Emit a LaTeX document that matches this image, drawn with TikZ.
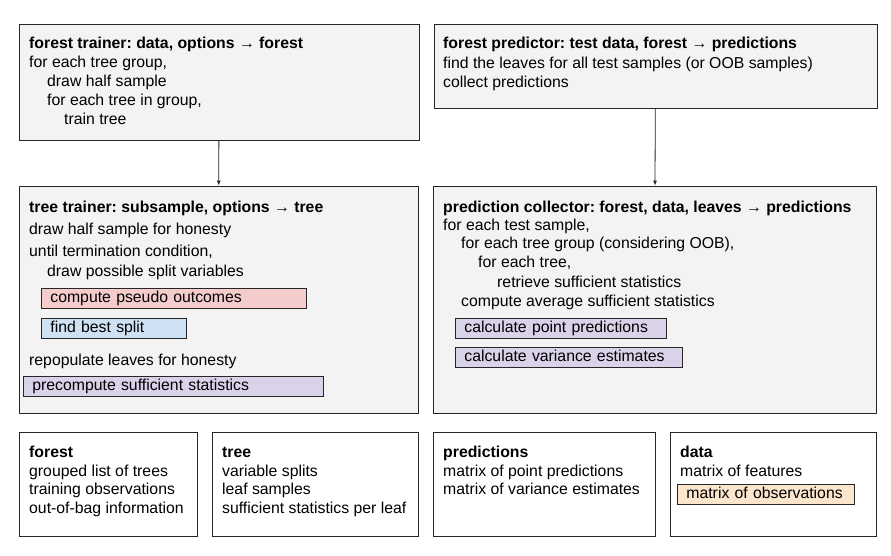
\documentclass[tikz,border=0pt]{standalone}
\usepackage{fontspec}
\setmainfont{Liberation Sans}
\frenchspacing
\usetikzlibrary{arrows.meta}
\definecolor{panelgray}{HTML}{F3F3F3}
\definecolor{pinkfill}{HTML}{F4CCCC}
\definecolor{bluefill}{HTML}{CFE2F3}
\definecolor{purplefill}{HTML}{D9D2E9}
\definecolor{orangefill}{HTML}{FCE5CD}
\tikzset{
  panel/.style = {draw=black!85, fill=#1, line width=0.8pt,
                  inner sep=0pt},
  panel/.default = panelgray,
  txt/.style = {anchor=base west, inner sep=0pt,
                font=\fontsize{15.8}{19}\selectfont},
  headline/.style = {txt, font=\fontsize{15.8}{19}\selectfont\bfseries},
  hlbox/.style = {draw=black!85, fill=#1, line width=0.8pt, anchor=west,
                  inner xsep=9pt, inner ysep=0pt, minimum height=20pt,
                  align=left, text height=11.5pt, text depth=3.5pt,
                  font=\fontsize{15.8}{19}\selectfont},
  conn/.style = {-{Latex[length=5pt,width=4pt]}, black!85, line width=0.8pt}
}

\begin{document}
\begin{tikzpicture}[x=1pt, y=-1pt]
	\useasboundingbox (0,0) rectangle (891,556);
	
	% Panels
	\node[panel, minimum width=400pt, minimum height=116pt] (ft) at (219,82) {};
	\node[panel, minimum width=443pt, minimum height=84pt] (fp) at (655.5,66) {};
	\node[panel, minimum width=399pt, minimum height=227pt] (tt) at (218.5,299.5) {};
	\node[panel, minimum width=443pt, minimum height=227pt] (pc) at (654.5,299.5) {};
	
	% Data structures
	\node[panel=white, minimum width=178pt, minimum height=104pt] (forest) at (108,484) {};
	\node[panel=white, minimum width=206pt, minimum height=104pt] (tree) at (315,484) {};
	\node[panel=white, minimum width=222pt, minimum height=104pt] (preds) at (544,484) {};
	\node[panel=white, minimum width=206pt, minimum height=104pt] (data) at (773,484) {};
	
	% Arrows
	\draw[conn] (ft) -- (tt);
	\draw[conn] (fp) -- (pc);
	
	% Forest trainer
	\node[headline] (ft-0) at (29,49) {forest trainer: data, options → forest};
	\node[txt] (ft-1) at (29,68) {for each tree group,};
	\node[txt] (ft-2) at (47,87) {draw half sample};
	\node[txt] (ft-3) at (47,106) {for each tree in group,};
	\node[txt] (ft-4) at (64,125) {train tree};
	
	% Forest predictor
	\node[headline] (fp-0) at (443,49) {forest predictor: test data, forest → predictions};
	\node[txt] (fp-1) at (443,69) {find the leaves for all test samples (or OOB samples)};
	\node[txt] (fp-2) at (443,88) {collect predictions};
	
	% Tree trainer
	\node[headline] (tt-0) at (29,212) {tree trainer: subsample, options → tree};
	\node[txt] (tt-1) at (29,234) {draw half sample for honesty};
	\node[txt] (tt-2) at (29,256) {until termination condition,};
	\node[txt] (tt-3) at (47,276) {draw possible split variables};
	\node[hlbox=pinkfill, text width=247pt] (tt-pseudo) at (41,298) {compute pseudo outcomes};
	\node[hlbox=bluefill, text width=127pt] (tt-split) at (41,328) {find best split};
	\node[txt] (tt-4) at (29,365) {repopulate leaves for honesty};
	\node[hlbox=purplefill, text width=282pt] (tt-stats) at (23,386) {precompute sufficient statistics};
	
	% Prediction collector
	\node[headline] (pc-0) at (443,212) {prediction collector: forest, data, leaves → predictions};
	\node[txt] (pc-1) at (443,230) {for each test sample,};
	\node[txt] (pc-2) at (461,248) {for each tree group (considering OOB),};
	\node[txt] (pc-3) at (478,267) {for each tree,};
	\node[txt] (pc-4) at (497,287) {retrieve sufficient statistics};
	\node[txt] (pc-5) at (461,306) {compute average sufficient statistics};
	\node[hlbox=purplefill, text width=193pt] (pc-point) at (455,328) {calculate point predictions};
	\node[hlbox=purplefill, text width=209pt] (pc-var) at (455,357.5) {calculate variance estimates};
	
	% Forest
	\node[headline] (forest-0) at (29,457) {forest};
	\node[txt] (forest-1) at (29,476) {grouped list of trees};
	\node[txt] (forest-2) at (29,494) {training observations};
	\node[txt] (forest-3) at (29,513) {out-of-bag information};
	
	% Tree
	\node[headline] (tree-0) at (222,457) {tree};
	\node[txt] (tree-1) at (222,476) {variable splits};
	\node[txt] (tree-2) at (222,494) {leaf samples};
	\node[txt] (tree-3) at (222,513) {sufficient statistics per leaf};
	
	% Predictions
	\node[headline] (preds-0) at (443,457) {predictions};
	\node[txt] (preds-1) at (443,476) {matrix of point predictions};
	\node[txt] (preds-2) at (443,494) {matrix of variance estimates};
	
	% Data
	\node[headline] (data-0) at (680,457) {data};
	\node[txt] (data-1) at (680,476) {matrix of features};
	\node[hlbox=orangefill, text width=159pt] (data-obs) at (677,494) {matrix of observations};
	
\end{tikzpicture}
\end{document}
